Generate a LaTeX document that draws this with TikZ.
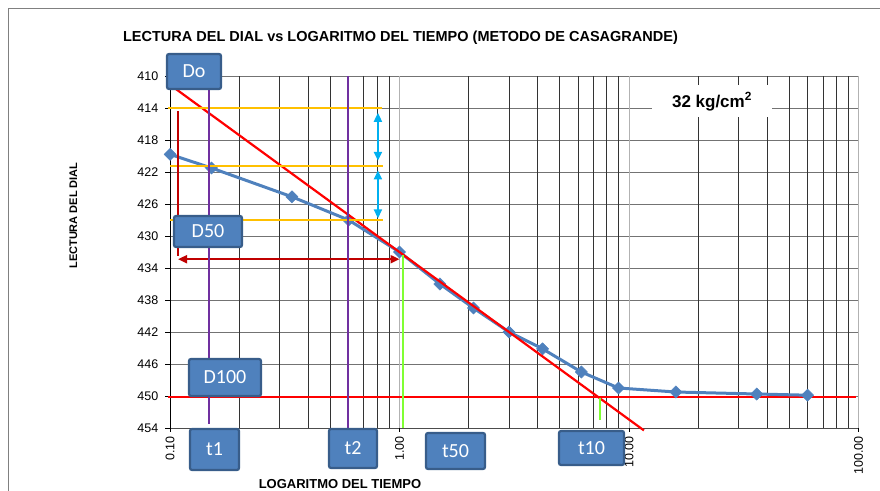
\documentclass[tikz,border=0pt]{standalone}
\usepackage{fontspec}
\setmainfont{Liberation Sans}
\newfontfamily\boxfont{Carlito}
\usetikzlibrary{arrows.meta,plotmarks}

\definecolor{chartblue}{HTML}{4F81BD}
\definecolor{boxline}{HTML}{385D8A}
\definecolor{tanred}{HTML}{FF0000}
\definecolor{darkred}{HTML}{C00000}
\definecolor{gold}{HTML}{FFC000}
\definecolor{skyblue}{HTML}{00B0F0}
\definecolor{violet}{HTML}{7030A0}
\definecolor{lime}{HTML}{80FF33}

\begin{document}
\begin{tikzpicture}[x=1pt,y=-1pt,>={Triangle[length=9pt,width=8pt]},
		label box/.style={rectangle,rounded corners=2pt,draw=boxline,line width=2.2pt,
			fill=chartblue,text=white,font=\boxfont\fontsize{20}{20}\selectfont,inner sep=0pt},
		hgrid/.style={draw=black!55,line width=1pt},
		vgrid/.style={draw=black!80,line width=0.9pt},
		major/.style={draw=black!30,line width=1pt},
		ticklbl/.style={font=\fontsize{12.5}{12.5}\selectfont,inner sep=0pt},
		serie/.style={chartblue,line width=3pt,line join=round,mark=square*,mark size=4.3pt,
			mark options={rotate=45,line width=0.5pt,fill=chartblue}}]

	\useasboundingbox (0,0) rectangle (880,490);
	\draw[black!50,line width=1pt] (8,8) rectangle (884,494);

	\node[font=\bfseries\fontsize{14.5}{14.5}\selectfont,anchor=base] (title) at (400.5,41)
		{LECTURA DEL DIAL vs LOGARITMO DEL TIEMPO (METODO DE CASAGRANDE)};
	\node[font=\bfseries\fontsize{11}{11}\selectfont,rotate=90,anchor=base] (ylbl) at (77,215.5)
		{LECTURA DEL DIAL};
	\node[font=\bfseries\fontsize{13}{13}\selectfont,anchor=base] (xlbl) at (340,488)
		{LOGARITMO DEL TIEMPO};

	\begin{scope}[shift={(399.5,-3204)},x=229.5pt,y=-8pt]
		\foreach \d in {410,414,...,450}
			\draw[hgrid] (-1,\d) -- (2,\d);
		\foreach \e in {-1,0,1}
			\foreach \k in {2,...,9}
				\draw[vgrid] ({\e+log10(\k)},410) -- ({\e+log10(\k)},454);
		\foreach \e in {0,1,2}
			\draw[major] (\e,410) -- (\e,454);
		\draw[black,line width=1pt] (-1,410) -- (-1,454);
		\draw[black!70,line width=1pt] (-1,454) -- (2,454);

		\foreach \d in {410,414,...,454} {
			\draw[black,line width=1pt] (-1,\d) -- ++(-5pt,0);
			\node[ticklbl,anchor=east,xshift=-11.5pt] at (-1,\d) {\d};
		}
		\foreach \e/\lbl in {-1/0.10,0/1.00,1/10.00,2/100.00} {
			\draw[black,line width=1pt] (\e,454) -- ++(0,-4pt);
			\node[ticklbl,rotate=90,anchor=east] at ([yshift=-8pt]\e,454) {\lbl};
		}

		\draw[tanred,line width=2.2pt] (-1.007,450.1) -- (1.99,450.1);

		\draw[serie] plot coordinates {({log10(0.1)},419.8) ({log10(0.15)},421.5)
			({log10(0.34)},425.1) ({log10(0.6)},428) (0,432) ({log10(1.5)},436)
			({log10(2.1)},439) ({log10(3)},442) ({log10(4.2)},444.1) ({log10(6.2)},447)
			({log10(9)},449) ({log10(16)},449.5) ({log10(36)},449.75) ({log10(60)},449.9)};

		\draw[tanred,line width=2.2pt] (-0.99,411.3) -- (1.065,454.3);

		\draw[gold,line width=2pt] (-1.007,414) -- (-0.076,414);
		\draw[gold,line width=2pt] (-1,421.3) -- (-0.072,421.3);
		\draw[gold,line width=2pt] (-1,428) -- (-0.072,428);
		\draw[skyblue,line width=2pt,<->] (-0.094,414.6) -- (-0.094,420.6);
		\draw[skyblue,line width=2pt,<->] (-0.094,421.8) -- (-0.094,427.8);

		\draw[darkred,line width=2pt] (-0.965,414.4) -- (-0.965,432.5);
		\draw[darkred,line width=2pt,<->] (-0.965,432.9) -- (0,432.9);

		\draw[violet,line width=1.6pt] (-0.830,410) -- (-0.830,453.5);
		\draw[violet,line width=1.6pt] (-0.2244,410) -- (-0.2244,454);
		\draw[lime,line width=1.6pt] (0.015,432.4) -- (0.015,454);
		\draw[lime,line width=1.6pt] (0.874,450.2) -- (0.874,453);
	\end{scope}

	\node[fill=white,minimum width=120pt,minimum height=32pt,text height=12.5pt,text depth=0pt,
		inner sep=0pt,font=\bfseries\fontsize{17}{17}\selectfont] (load) at (712,101)
		{32 kg/cm\textsuperscript{2}};

	\node[label box,minimum width=54pt,minimum height=35pt] (Do) at (194,71.5) {Do};
	\node[label box,minimum width=68pt,minimum height=31pt] (D50) at (208,231.5) {D50};
	\node[label box,minimum width=72pt,minimum height=37pt] (D100) at (225,377.5) {D100};
	\node[label box,minimum width=49pt,minimum height=41pt] (t1) at (214.5,449.5) {t1};
	\node[label box,minimum width=48pt,minimum height=39pt] (t2) at (353,448.5) {t2};
	\node[label box,minimum width=59pt,minimum height=36pt] (t50) at (455.5,451) {t50};
	\node[label box,minimum width=65pt,minimum height=34pt] (t10) at (591.5,448) {t10};
\end{tikzpicture}
\end{document}
